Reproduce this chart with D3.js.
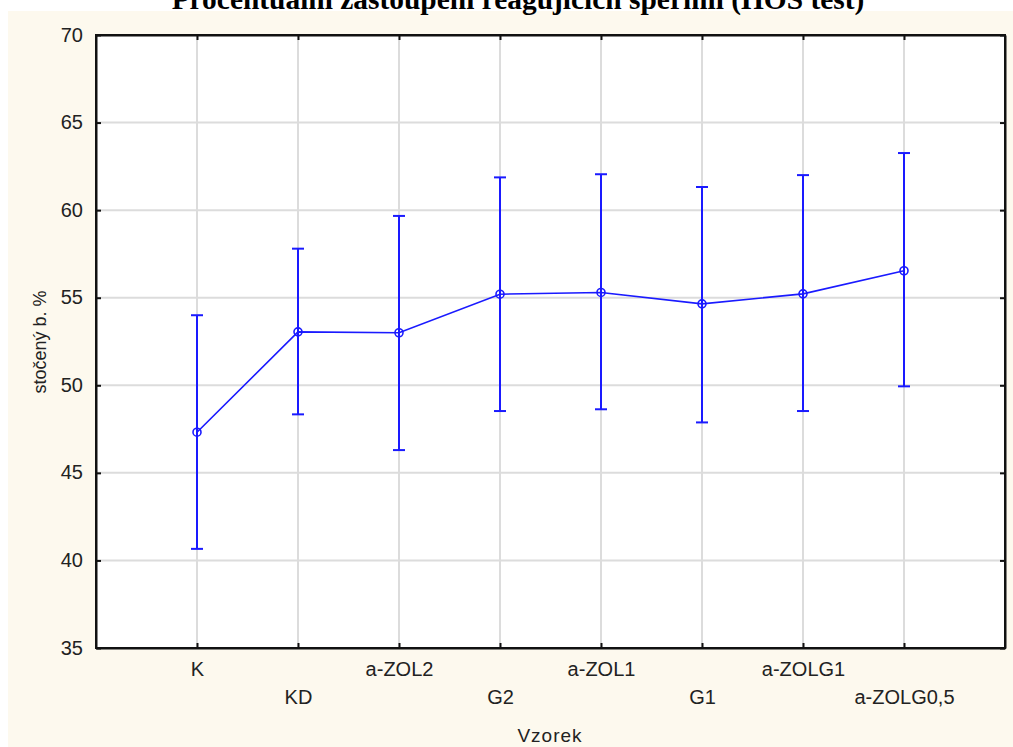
<!DOCTYPE html>
<html>
<head>
<meta charset="utf-8">
<script src="https://cdn.jsdelivr.net/npm/d3@7"></script>
<style>
  html, body { margin: 0; padding: 0; background: #ffffff; }
  svg { display: block; }
</style>
</head>
<body>
<svg id="chart" width="1013" height="747"></svg>
<script>
// Sample groups and their mean ± interval values
const categories = ["K", "KD", "a-ZOL2", "G2", "a-ZOL1", "G1", "a-ZOLG1", "a-ZOLG0,5"];
const means      = [47.32, 53.05, 53.0, 55.2, 55.3, 54.65, 55.22, 56.54];
const upper      = [54.0, 57.8, 59.67, 61.87, 62.05, 61.32, 62.0, 63.26];
const lower      = [40.66, 48.34, 46.3, 48.53, 48.63, 47.88, 48.53, 49.94];
const yTicks     = [35, 40, 45, 50, 55, 60, 65, 70];

const titleText = "Procentuální zastoupení reagujících spermií (HOS test)";
const xTitle = "Vzorek";
const yTitle = "stočený b. %";

const svg = d3.select("#chart");
const W = 1013, H = 747;
const plot = { left: 96, right: 1005, top: 35, bottom: 648 };
const blue = "#1a1aff";
const axisFont = "'Liberation Sans', Arial, sans-serif";

// Cream backdrop behind the whole graph area
svg.append("rect").attr("x", 8).attr("y", 11).attr("width", W - 8).attr("height", H - 11)
  .attr("fill", "#fdf9ee");

// Title (sits at the very top edge)
const title = svg.append("text")
  .attr("x", 518).attr("y", 9)
  .attr("text-anchor", "middle")
  .attr("font-family", "'Liberation Serif', 'Times New Roman', serif")
  .attr("font-weight", "bold")
  .attr("font-size", 100)
  .attr("fill", "#000")
  .text(titleText);
const tw = title.node().getComputedTextLength();
title.attr("font-size", 100 * 693 / tw);

const x = d3.scalePoint().domain(categories).range([plot.left, plot.right]).padding(1);
const y = d3.scaleLinear().domain([35, 70]).range([plot.bottom, plot.top]);

// White plotting area
svg.append("rect").attr("x", plot.left).attr("y", plot.top)
  .attr("width", plot.right - plot.left).attr("height", plot.bottom - plot.top)
  .attr("fill", "#ffffff");

// Grid lines
const grid = svg.append("g").attr("stroke", "#dcdcdc").attr("stroke-width", 2);
grid.selectAll("line.h").data(yTicks.filter(t => t > 35 && t < 70)).join("line")
  .attr("class", "h")
  .attr("x1", plot.left).attr("x2", plot.right)
  .attr("y1", d => y(d)).attr("y2", d => y(d));
grid.selectAll("line.v").data(categories).join("line")
  .attr("class", "v")
  .attr("x1", d => x(d)).attr("x2", d => x(d))
  .attr("y1", plot.top).attr("y2", plot.bottom);

// Axes with inward ticks
const yAxis = svg.append("g").attr("transform", `translate(${plot.left},0)`)
  .call(d3.axisLeft(y).tickValues(yTicks).tickSize(-5).tickPadding(13).tickSizeOuter(0));
const yAxisR = svg.append("g").attr("transform", `translate(${plot.right},0)`)
  .call(d3.axisRight(y).tickValues(yTicks).tickSize(-5).tickFormat("").tickSizeOuter(0));
const xAxis = svg.append("g").attr("transform", `translate(0,${plot.bottom})`)
  .call(d3.axisBottom(x).tickSize(-5).tickPadding(14).tickSizeOuter(0));
const xAxisT = svg.append("g").attr("transform", `translate(0,${plot.top})`)
  .call(d3.axisTop(x).tickSize(-5).tickFormat("").tickSizeOuter(0));

[yAxis, yAxisR, xAxis, xAxisT].forEach(g => {
  g.select(".domain").attr("stroke", "#111").attr("stroke-width", 2);
  g.selectAll(".tick line").attr("stroke", "#111").attr("stroke-width", 2);
  g.selectAll("text").attr("font-family", axisFont).attr("font-size", 20).attr("fill", "#222");
});
yAxis.selectAll("text").attr("dy", "0.3em");
xAxis.selectAll("text")
  .attr("y", (d, i) => i % 2 === 0 ? 14 : 42)
  .attr("dy", "0.71em");

// Frame around the plotting area
svg.append("rect").attr("x", plot.left).attr("y", plot.top)
  .attr("width", plot.right - plot.left).attr("height", plot.bottom - plot.top)
  .attr("fill", "none").attr("stroke", "#111").attr("stroke-width", 2);

// Axis titles
svg.append("text")
  .attr("x", 550).attr("y", 742)
  .attr("text-anchor", "middle")
  .attr("font-family", axisFont).attr("font-size", 19).attr("letter-spacing", 1)
  .attr("fill", "#222").text(xTitle);
svg.append("text")
  .attr("transform", "translate(46,342) rotate(-90)")
  .attr("text-anchor", "middle")
  .attr("font-family", axisFont).attr("font-size", 18)
  .attr("fill", "#222").text(yTitle);

const data = categories.map((c, i) => ({ c, m: means[i], hi: upper[i], lo: lower[i] }));

// Error bars
const eb = svg.append("g").attr("stroke", blue).attr("stroke-width", 2);
eb.selectAll("line.bar").data(data).join("line").attr("class", "bar")
  .attr("x1", d => x(d.c)).attr("x2", d => x(d.c))
  .attr("y1", d => y(d.hi)).attr("y2", d => y(d.lo));
eb.selectAll("line.capH").data(data).join("line").attr("class", "capH")
  .attr("x1", d => x(d.c) - 6).attr("x2", d => x(d.c) + 6)
  .attr("y1", d => y(d.hi)).attr("y2", d => y(d.hi));
eb.selectAll("line.capL").data(data).join("line").attr("class", "capL")
  .attr("x1", d => x(d.c) - 6).attr("x2", d => x(d.c) + 6)
  .attr("y1", d => y(d.lo)).attr("y2", d => y(d.lo));

// Mean line and markers
svg.append("path").datum(data)
  .attr("fill", "none").attr("stroke", blue).attr("stroke-width", 1.6)
  .attr("d", d3.line().x(d => x(d.c)).y(d => y(d.m)));
svg.append("g").selectAll("circle").data(data).join("circle")
  .attr("cx", d => x(d.c)).attr("cy", d => y(d.m)).attr("r", 4)
  .attr("fill", "none").attr("stroke", blue).attr("stroke-width", 1.6);
</script>
</body>
</html>
